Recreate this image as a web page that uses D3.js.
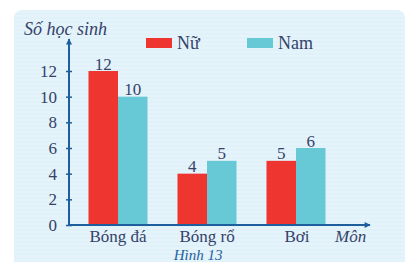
<!DOCTYPE html>
<html>
<head>
<meta charset="utf-8">
<script src="https://cdn.jsdelivr.net/npm/d3@7"></script>
<style>
  body { margin: 0; background: #ffffff; }
  svg { display: block; }
  text { font-family: "Liberation Serif", "DejaVu Serif", serif; }
</style>
</head>
<body>
<svg id="chart" width="407" height="262"></svg>
<script>
// data
const categories = ['Bóng đá', 'Bóng rổ', 'Bơi'];
const seriesNames = ['Nữ', 'Nam'];
const nuValues = [12, 4, 5];
const namValues = [10, 5, 6];
const yTicks = [0, 2, 4, 6, 8, 10, 12];

const colors = { nu: '#ee3530', nam: '#68c9d6', axis: '#1d5f9c', text: '#34426a', panel: '#e0f1f9' };

const svg = d3.select('#chart');

// light blue panel with faint stripes
svg.append('rect')
  .attr('x', 14).attr('y', 10).attr('width', 391).attr('height', 262)
  .attr('rx', 8)
  .attr('fill', colors.panel);
const stripes = svg.append('g');
d3.range(12, 262, 4).forEach(y => {
  stripes.append('line')
    .attr('x1', 14).attr('x2', 405).attr('y1', y).attr('y2', y)
    .attr('stroke', '#ffffff').attr('stroke-opacity', 0.35).attr('stroke-width', 1);
});

const x0 = 69, yBase = 225;
const y = d3.scaleLinear().domain([0, 12]).range([yBase, 71]);
const x = d3.scalePoint().domain(categories).range([118, 296]);
const barW = 29.5;

// bars
const groups = categories.map((c, i) => ({ c, vals: [nuValues[i], namValues[i]] }));
const g = svg.append('g');
groups.forEach(d => {
  d.vals.forEach((v, j) => {
    const bx = x(d.c) + (j === 0 ? -barW : 0);
    g.append('rect')
      .attr('x', bx).attr('y', y(v))
      .attr('width', barW).attr('height', yBase - y(v))
      .attr('fill', j === 0 ? colors.nu : colors.nam);
    g.append('text')
      .attr('x', bx + barW / 2).attr('y', y(v) - 1.5)
      .attr('text-anchor', 'middle')
      .attr('font-size', 17)
      .attr('fill', colors.text)
      .text(v);
  });
});

// y axis
const yAxis = d3.axisLeft(y).tickValues(yTicks).tickSize(0).tickPadding(12);
const ya = svg.append('g').attr('transform', `translate(${x0},0)`).call(yAxis);
ya.select('.domain').remove();
ya.selectAll('text')
  .attr('font-size', 17)
  .attr('fill', colors.text)
  .attr('font-family', '"Liberation Serif", serif');
ya.selectAll('.tick').append('line')
  .attr('x1', -3).attr('x2', 3)
  .attr('stroke', colors.axis).attr('stroke-width', 1.5);

// axis lines with arrows
svg.append('defs').append('marker')
  .attr('id', 'arrow').attr('viewBox', '0 0 10 10')
  .attr('refX', 9).attr('refY', 5)
  .attr('markerWidth', 9).attr('markerHeight', 6)
  .attr('markerUnits', 'userSpaceOnUse')
  .attr('orient', 'auto')
  .append('path').attr('d', 'M0,0 L10,5 L0,10 Z').attr('fill', colors.axis);

svg.append('line')
  .attr('x1', x0).attr('y1', yBase).attr('x2', x0).attr('y2', 39)
  .attr('stroke', colors.axis).attr('stroke-width', 2)
  .attr('marker-end', 'url(#arrow)');
svg.append('line')
  .attr('x1', x0).attr('y1', yBase).attr('x2', 370).attr('y2', yBase)
  .attr('stroke', colors.axis).attr('stroke-width', 2)
  .attr('marker-end', 'url(#arrow)');

// category labels
categories.forEach(c => {
  svg.append('text')
    .attr('x', x(c) + (c === 'Bơi' ? 1 : 0)).attr('y', 242)
    .attr('text-anchor', 'middle')
    .attr('font-size', 17)
    .attr('fill', colors.text)
    .text(c);
});

// axis titles
svg.append('text')
  .attr('x', 24).attr('y', 35)
  .attr('font-size', 18).attr('font-style', 'italic')
  .attr('fill', colors.text)
  .text('Số học sinh');
svg.append('text')
  .attr('x', 335).attr('y', 242)
  .attr('font-size', 17).attr('font-style', 'italic')
  .attr('fill', colors.text)
  .text('Môn');
svg.append('text')
  .attr('x', 198).attr('y', 260)
  .attr('text-anchor', 'middle')
  .attr('font-size', 15).attr('font-style', 'italic')
  .attr('fill', colors.axis)
  .text('Hình 13');

// legend
const legend = svg.append('g');
const legendX = [146, 247];
seriesNames.forEach((n, i) => {
  legend.append('rect')
    .attr('x', legendX[i]).attr('y', 38)
    .attr('width', 26).attr('height', 10)
    .attr('fill', i === 0 ? colors.nu : colors.nam);
  legend.append('text')
    .attr('x', legendX[i] + 31).attr('y', 49)
    .attr('font-size', 18)
    .attr('fill', colors.text)
    .text(n);
});
</script>
</body>
</html>
